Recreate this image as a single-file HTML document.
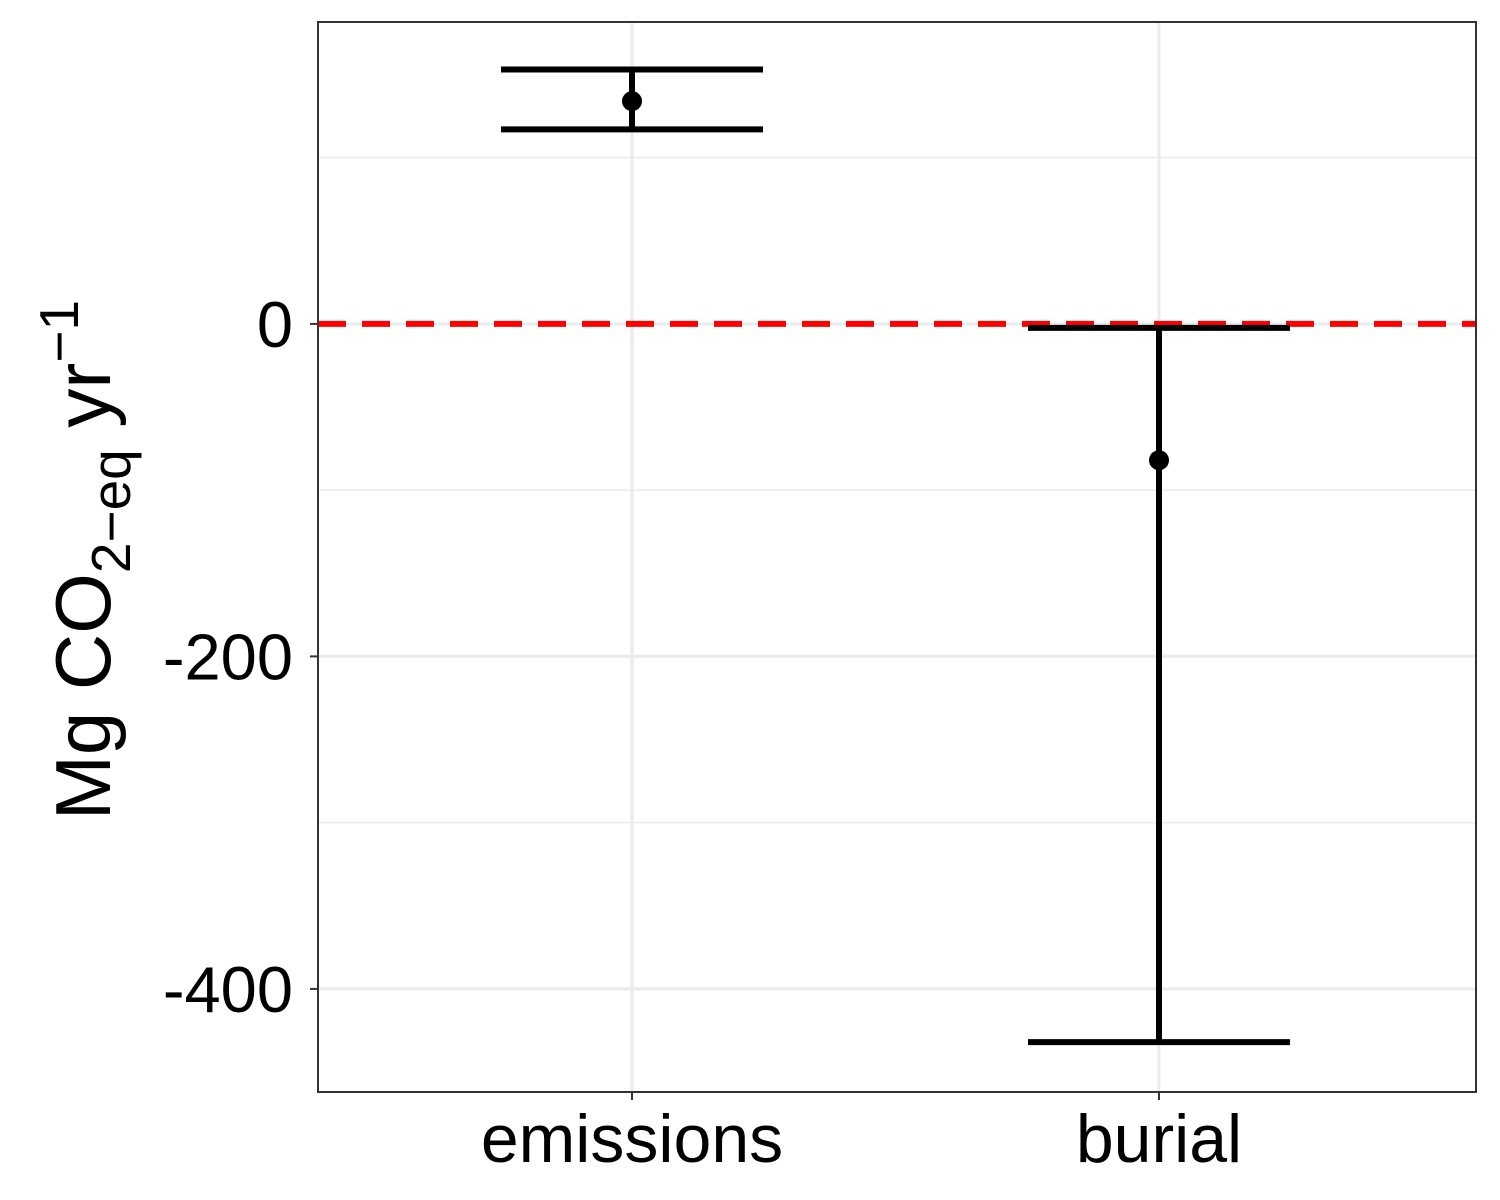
<!DOCTYPE html>
<html><head><meta charset="utf-8"><style>
html,body{margin:0;padding:0;background:#fff;}
svg{display:block;font-family:"Liberation Sans",Arial,sans-serif;}
</style></head><body>
<svg id="chart" width="1500" height="1200" viewBox="0 0 1500 1200" xmlns="http://www.w3.org/2000/svg">
<rect x="0" y="0" width="1500" height="1200" fill="#fff"/>
<g id="grid"></g>
<g id="marks"></g>
<rect x="318" y="22" width="1158" height="1070" fill="none" stroke="#333" stroke-width="2"/>
<g id="axes"></g>
<text transform="translate(110,560) rotate(-90)" text-anchor="middle" font-size="78" fill="#000">Mg CO<tspan font-size="55" dy="20">2−eq</tspan><tspan dy="-20"> yr</tspan><tspan font-size="55" dy="-32">−1</tspan></text>
</svg>
<script>
const categories = ["emissions", "burial"];
const means = [134, -82];
const lowers = [117, -432];
const uppers = [153, -2.4];
const yTicks = [0, -200, -400];
const yMinor = [100, -100, -300];
const refLine = 0;

const NS = "http://www.w3.org/2000/svg";
const yMin = -462, yMax = 181.6, plotTop = 22, plotBottom = 1092, plotLeft = 318, plotRight = 1476;
function y(v){ return plotBottom - (v - yMin) / (yMax - yMin) * (plotBottom - plotTop); }
function x(i){ return 632 + i * 527; }
function mk(tag, attrs, parent){ const e = document.createElementNS(NS, tag); for (const k in attrs) e.setAttribute(k, attrs[k]); parent.appendChild(e); return e; }
const grid = document.getElementById('grid'), marks = document.getElementById('marks'), axes = document.getElementById('axes');

yMinor.forEach(v => {
  const l = mk('line', {x1:plotLeft, x2:plotRight, y1:y(v), y2:y(v), stroke:'#ebebeb', 'stroke-width':1.5}, grid);
  
  
});
yTicks.forEach(v => {
  const l = mk('line', {x1:plotLeft, x2:plotRight, y1:y(v), y2:y(v), stroke:'#ebebeb', 'stroke-width':3}, grid);
  
  
  const t = mk('line', {x1:plotLeft-8, x2:plotLeft, y1:y(v), y2:y(v), stroke:'#333', 'stroke-width':2}, axes);
  
  
  const tx = mk('text', {x:plotLeft-25, y:y(v)+23, 'text-anchor':'end', 'font-size':65, fill:'#000'}, axes);
  tx.textContent = String(v);
  
  
});
categories.forEach((c, i) => {
  const l = mk('line', {x1:x(i), x2:x(i), y1:plotTop, y2:plotBottom, stroke:'#ebebeb', 'stroke-width':3}, grid);
  
  
  const t = mk('line', {x1:x(i), x2:x(i), y1:plotBottom, y2:plotBottom+8, stroke:'#333', 'stroke-width':2}, axes);
  
  
  const tx = mk('text', {x:x(i), y:1162, 'text-anchor':'middle', 'font-size':68, fill:'#000'}, axes);
  tx.textContent = c;
  
  
});
const ref = mk('line', {x1:plotLeft, x2:plotRight, y1:y(refLine), y2:y(refLine), stroke:'#ff0000', 'stroke-width':6, 'stroke-dasharray':'28 16'}, marks);


categories.forEach((c, i) => {
  const g = mk('g', {}, marks);
  
  
  const w = 131;
  mk('line', {x1:x(i), x2:x(i), y1:y(uppers[i]), y2:y(lowers[i]), stroke:'#000', 'stroke-width':6}, g);
  mk('line', {x1:x(i)-w, x2:x(i)+w, y1:y(uppers[i]), y2:y(uppers[i]), stroke:'#000', 'stroke-width':6}, g);
  mk('line', {x1:x(i)-w, x2:x(i)+w, y1:y(lowers[i]), y2:y(lowers[i]), stroke:'#000', 'stroke-width':6}, g);
  const p = mk('circle', {cx:x(i), cy:y(means[i]), r:10, fill:'#000'}, marks);
  
  
});
</script>
</body></html>
